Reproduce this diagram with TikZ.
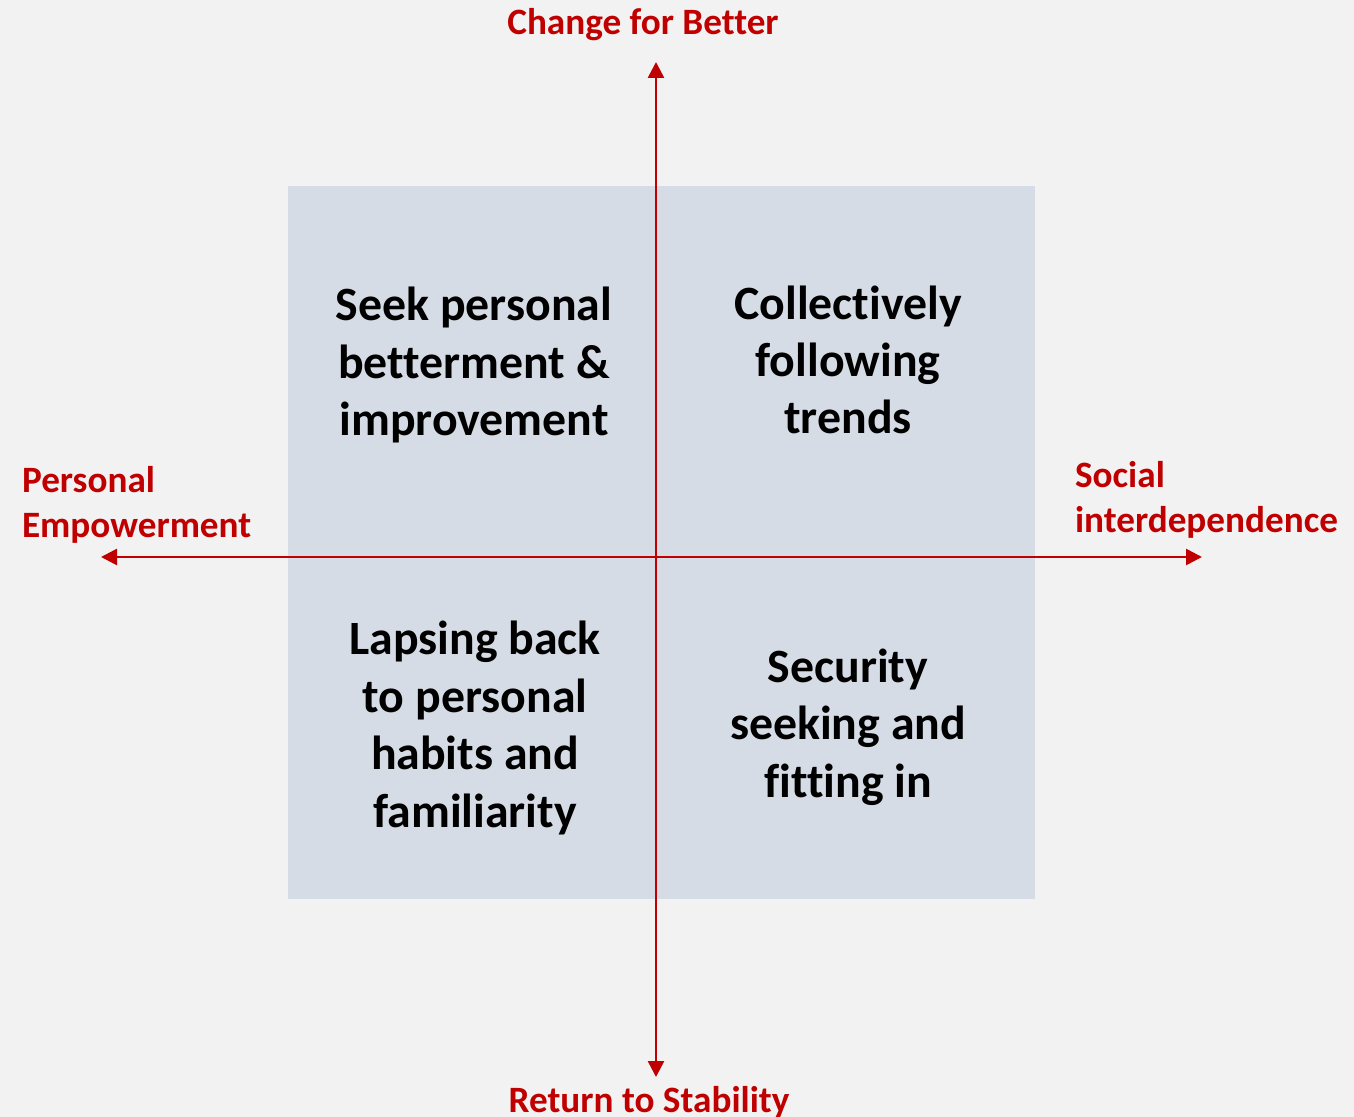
\documentclass[tikz,border=0pt]{standalone}
\usepackage{fontspec}
\setmainfont{Carlito}[RawFeature=-liga]
\usetikzlibrary{arrows.meta}
\definecolor{bgc}{HTML}{F2F2F2}
\definecolor{boxc}{HTML}{D6DCE5}
\definecolor{axisred}{HTML}{C00000}
\tikzset{
  quad/.style={align=center, font=\fontsize{23.9}{28.7}\selectfont\bfseries, text=black},
  axlabel/.style={font=\fontsize{18.6}{22.5}\selectfont\bfseries, text=axisred},
  axisline/.style={draw=axisred, line width=1.3pt, -{Triangle[length=8pt,width=8pt]}}
}
\begin{document}
\begin{tikzpicture}[x=0.5pt,y=-0.5pt]
\fill[bgc] (0,0) rectangle (1354,1117);
\useasboundingbox (0,0) rectangle (1354,1117);
\fill[boxc] (288,186) rectangle (1035,899);
\coordinate (c) at (656,557);
\coordinate (top) at (656,62);
\coordinate (bot) at (656,1077);
\coordinate (left) at (101,557);
\coordinate (right) at (1202,557);
\draw[axisline] (c) -- (top);
\draw[axisline] (c) -- (bot);
\draw[axisline] (c) -- (left);
\draw[axisline] (c) -- (right);
\node[quad] (tl) at (474,365) {Seek personal\\betterment \&\\improvement};
\node[quad] (tr) at (848,360) {Collectively\\following\\trends};
\node[quad] (bl) at (475,728) {Lapsing back\\to personal\\habits and\\familiarity};
\node[quad] (br) at (848,727) {Security\\seeking and\\fitting in};
\node[axlabel] (up) at (643,25) {Change for Better};
\node[axlabel] (down) at (649,1102) {Return to Stability};
\node[axlabel, align=left, anchor=west] (pe) at (15,505) {Personal\\Empowerment};
\node[axlabel, align=left, anchor=west] (si) at (1068,500) {Social\\interdependence};
\end{tikzpicture}
\end{document}
